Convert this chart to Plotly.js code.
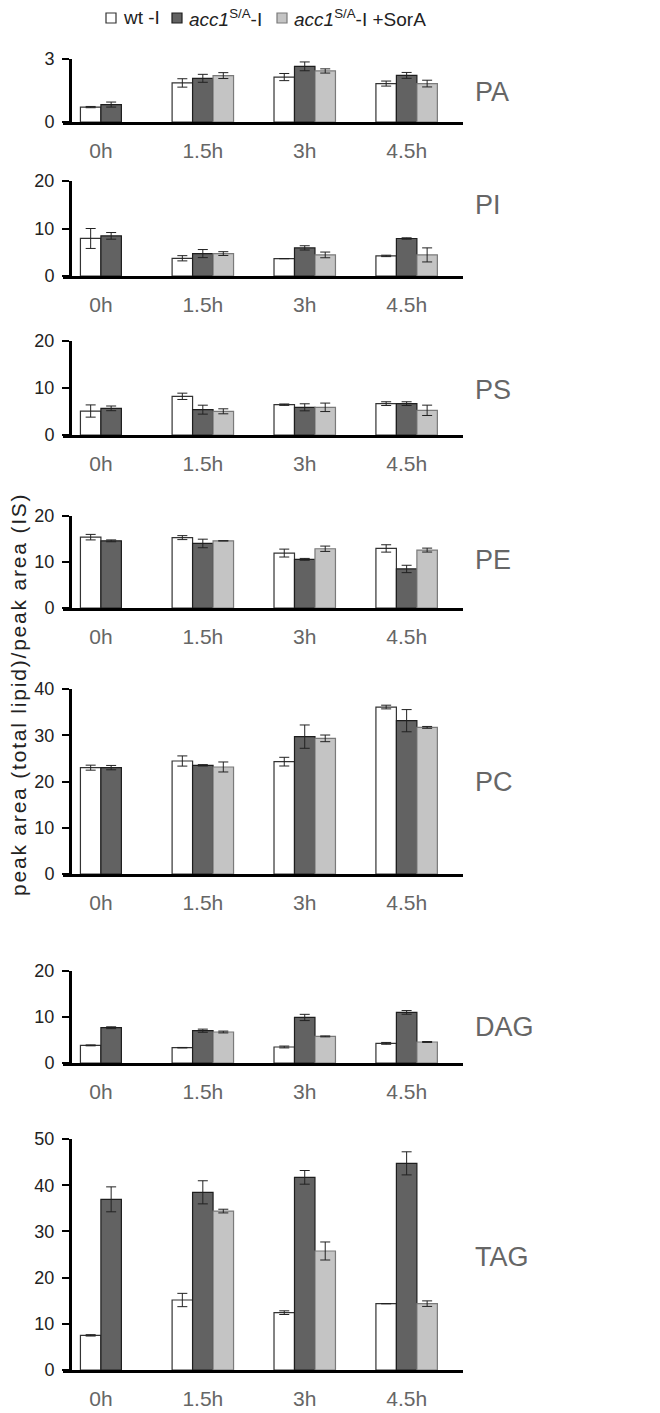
<!DOCTYPE html>
<html>
<head>
<meta charset="utf-8">
<script src="https://cdn.plot.ly/plotly-3.0.1.min.js"></script>
<style>html,body{margin:0;padding:0;background:#fff;}#chart{width:660px;height:1413px;}</style>
</head>
<body>
<div id="chart"></div>
<script>
// ---------------- DATA ----------------
const categories = ['0h', '1.5h', '3h', '4.5h'];
const seriesNames = ['wt -I', '<i>acc1</i><sup>S/A</sup>-I', '<i>acc1</i><sup>S/A</sup>-I +SorA'];
const lipids = ['PA', 'PI', 'PS', 'PE', 'PC', 'DAG', 'TAG'];

const PA_wt = [0.71, 1.86, 2.14, 1.83];   const PA_wt_err = [0.03, 0.20, 0.17, 0.12];
const PA_acc = [0.83, 2.08, 2.65, 2.22];  const PA_acc_err = [0.12, 0.19, 0.21, 0.14];
const PA_sor = [null, 2.21, 2.43, 1.83];  const PA_sor_err = [null, 0.14, 0.10, 0.16];

const PI_wt = [7.9, 3.73, 3.66, 4.23];    const PI_wt_err = [2.1, 0.55, 0, 0.15];
const PI_acc = [8.45, 4.72, 5.92, 7.89];  const PI_acc_err = [0.7, 0.85, 0.45, 0.15];
const PI_sor = [null, 4.72, 4.44, 4.44];  const PI_sor_err = [null, 0.4, 0.6, 1.48];

const PS_wt = [5.1, 8.23, 6.45, 6.67];    const PS_wt_err = [1.3, 0.67, 0.15, 0.4];
const PS_acc = [5.67, 5.39, 5.89, 6.67];  const PS_acc_err = [0.5, 0.95, 0.75, 0.4];
const PS_sor = [null, 5.04, 5.89, 5.25];  const PS_sor_err = [null, 0.53, 0.9, 1.1];

const PE_wt = [15.4, 15.3, 11.94, 12.95]; const PE_wt_err = [0.6, 0.43, 0.86, 0.8];
const PE_acc = [14.6, 14.03, 10.58, 8.49]; const PE_acc_err = [0.2, 0.93, 0.2, 0.8];
const PE_sor = [null, 14.6, 12.88, 12.59]; const PE_sor_err = [null, 0, 0.58, 0.43];

const PC_wt = [22.99, 24.43, 24.29, 36.1]; const PC_wt_err = [0.54, 1.1, 0.94, 0.4];
const PC_acc = [23.0, 23.5, 29.7, 33.15];  const PC_acc_err = [0.47, 0.15, 2.52, 2.4];
const PC_sor = [null, 23.14, 29.33, 31.7]; const PC_sor_err = [null, 1.08, 0.72, 0.2];

const DAG_wt = [3.83, 3.33, 3.48, 4.27];  const DAG_wt_err = [0.1, 0.05, 0.2, 0.2];
const DAG_acc = [7.67, 7.02, 9.9, 11.0];  const DAG_acc_err = [0.2, 0.34, 0.68, 0.4];
const DAG_sor = [null, 6.74, 5.78, 4.57]; const DAG_sor_err = [null, 0.2, 0.1, 0.1];

const TAG_wt = [7.5, 15.15, 12.41, 14.36];   const TAG_wt_err = [0.15, 1.44, 0.4, 0];
const TAG_acc = [36.94, 38.46, 41.7, 44.73]; const TAG_acc_err = [2.7, 2.5, 1.48, 2.5];
const TAG_sor = [null, 34.4, 25.76, 14.36];  const TAG_sor_err = [null, 0.4, 1.95, 0.6];

const yMax = [3, 20, 20, 20, 40, 20, 50];
const yStep = [3, 10, 10, 10, 10, 10, 10];

// ---------------- LAYOUT / STYLE ----------------
const W = 660, H = 1413;
const panelTop = [59, 181, 341, 516, 689, 971, 1139];
const panelBottom = [122, 276, 435, 608, 874, 1063, 1370];
const labelY = [92, 205, 390, 560, 782, 1027, 1257];
const xLeft = 63, xRight = 463, yAxisX = 70;
const barW = 0.201;
const fills = ['#ffffff', '#626262', '#c4c4c4'];
const lines = ['#333333', '#1e1e1e', '#7a7a7a'];
const narrow = 'Liberation Sans Narrow, Arial Narrow, Liberation Sans, Arial, sans-serif';
const regular = 'Liberation Sans, Arial, sans-serif';
// legend swatch left edges (px) and vertical centre
const legendSwatchX = [106, 172, 277];
const legendY = 18, swatch = 10;

const table = {
  PA: [[PA_wt, PA_wt_err], [PA_acc, PA_acc_err], [PA_sor, PA_sor_err]],
  PI: [[PI_wt, PI_wt_err], [PI_acc, PI_acc_err], [PI_sor, PI_sor_err]],
  PS: [[PS_wt, PS_wt_err], [PS_acc, PS_acc_err], [PS_sor, PS_sor_err]],
  PE: [[PE_wt, PE_wt_err], [PE_acc, PE_acc_err], [PE_sor, PE_sor_err]],
  PC: [[PC_wt, PC_wt_err], [PC_acc, PC_acc_err], [PC_sor, PC_sor_err]],
  DAG: [[DAG_wt, DAG_wt_err], [DAG_acc, DAG_acc_err], [DAG_sor, DAG_sor_err]],
  TAG: [[TAG_wt, TAG_wt_err], [TAG_acc, TAG_acc_err], [TAG_sor, TAG_sor_err]]
};

const traces = [];
const layout = {
  width: W, height: H,
  margin: {l: 0, r: 0, t: 0, b: 0},
  paper_bgcolor: '#ffffff',
  plot_bgcolor: 'rgba(0,0,0,0)',
  barmode: 'overlay',
  font: {family: regular, color: '#222'},
  showlegend: false,
  annotations: [],
  shapes: [],
  bargap: 0
};

lipids.forEach((lip, p) => {
  const sfx = p === 0 ? '' : String(p + 1);
  const series = table[lip];
  // count present series in each group so the bars are centred on the category
  const present = categories.map((c, i) => series.filter(s => s[0][i] !== null).length);
  series.forEach((s, k) => {
    const offs = categories.map((c, i) => {
      let rank = 0;
      for (let j = 0; j < k; j++) if (series[j][0][i] !== null) rank++;
      return (rank - present[i] / 2) * barW;
    });
    traces.push({
      type: 'bar',
      x: categories,
      y: s[0],
      width: barW,
      offset: offs,
      name: seriesNames[k],
      xaxis: 'x' + sfx,
      yaxis: 'y' + sfx,
      marker: {color: fills[k], line: {color: lines[k], width: 1.2}},
      error_y: {type: 'data', array: s[1], visible: true, color: '#222', thickness: 1, width: 5},
      hoverinfo: 'x+y'
    });
  });

  layout['xaxis' + sfx] = {
    domain: [xLeft / W, xRight / W],
    anchor: 'y' + sfx,
    type: 'category',
    categoryorder: 'array', categoryarray: categories,
    range: [-0.372, 3.553],
    showline: true, linewidth: 3, linecolor: '#000',
    ticks: '', showgrid: false, zeroline: false,
    tickfont: {size: 21, color: '#666', family: regular},
    ticklabelstandoff: 8,
    fixedrange: true
  };
  layout['yaxis' + sfx] = {
    domain: [1 - panelBottom[p] / H, 1 - panelTop[p] / H],
    anchor: 'free', position: yAxisX / W,
    range: [0, yMax[p]],
    tick0: 0, dtick: yStep[p],
    showline: true, linewidth: 2.5, linecolor: '#000',
    ticks: 'outside', ticklen: 7, tickwidth: 2, tickcolor: '#000',
    tickfont: {size: 18, color: '#222', family: regular},
    ticklabelstandoff: 4,
    showgrid: false, zeroline: false, fixedrange: true
  };
  layout.annotations.push({
    text: lip, xref: 'paper', yref: 'paper',
    x: 473 / W, y: 1 - labelY[p] / H, xanchor: 'left', yanchor: 'middle',
    showarrow: false, font: {size: 27, color: '#666', family: narrow}
  });
});

// custom legend: swatch + text, styled like the bars
seriesNames.forEach((nm, k) => {
  const x0 = legendSwatchX[k];
  layout.shapes.push({
    type: 'rect', xref: 'paper', yref: 'paper',
    x0: x0 / W, x1: (x0 + swatch) / W,
    y0: 1 - (legendY + swatch / 2) / H, y1: 1 - (legendY - swatch / 2) / H,
    fillcolor: fills[k], line: {color: lines[k], width: 1.2}
  });
  layout.annotations.push({
    text: nm, xref: 'paper', yref: 'paper',
    x: (x0 + swatch + 5) / W, y: 1 - legendY / H, xanchor: 'left', yanchor: 'middle',
    showarrow: false, font: {size: 19, color: '#222', family: regular}
  });
});

layout.annotations.push({
  text: '<span style="letter-spacing:1.8px">peak area (total lipid)/peak area (IS)</span>',
  xref: 'paper', yref: 'paper', x: 18 / W, y: 1 - 695 / H,
  xanchor: 'center', yanchor: 'middle', textangle: -90, showarrow: false,
  font: {size: 21, color: '#222', family: regular}
});

Plotly.newPlot('chart', traces, layout, {displayModeBar: false, staticPlot: true});
</script>
</body>
</html>
